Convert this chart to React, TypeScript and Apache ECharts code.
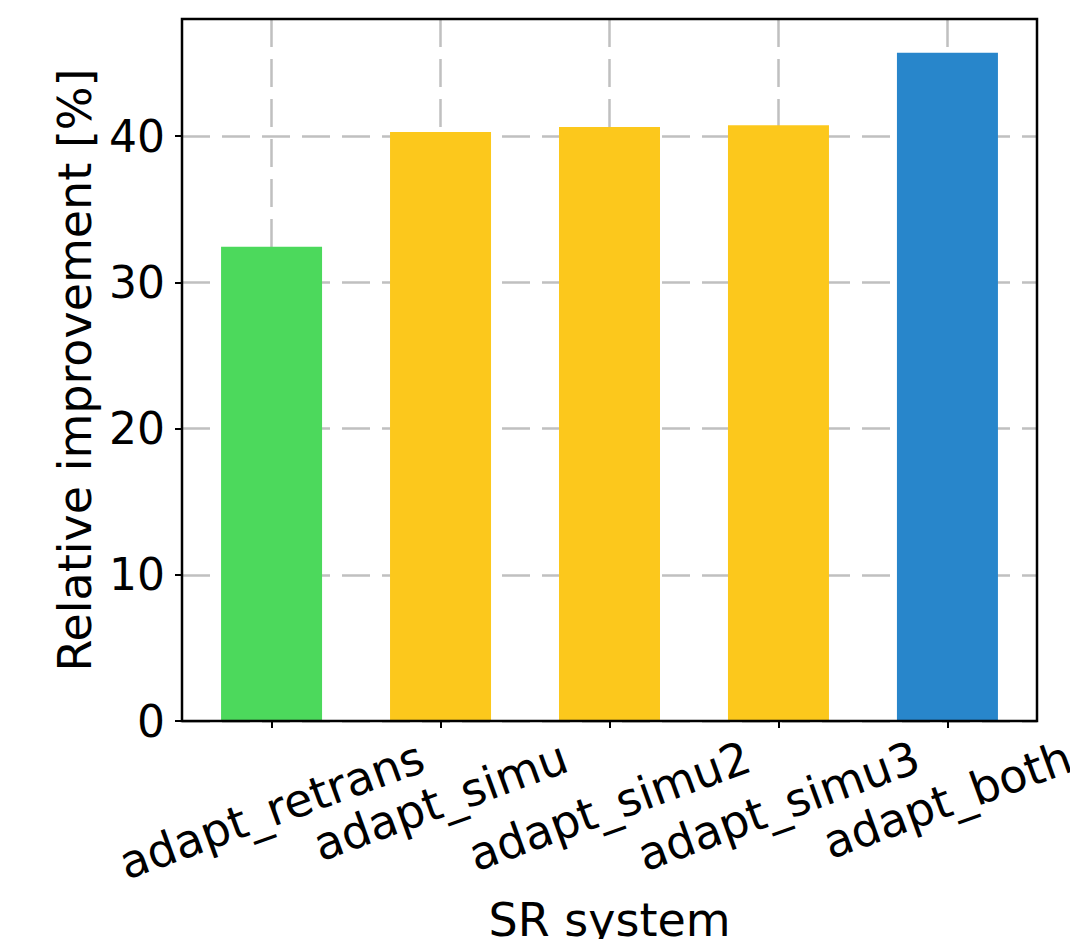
import React, { useEffect, useRef } from 'react';
import * as echarts from 'echarts';

const categories = ['adapt_retrans', 'adapt_simu', 'adapt_simu2', 'adapt_simu3', 'adapt_both'];
const values = [32.42, 40.27, 40.61, 40.74, 45.69];
const barColors = ['#4cd95c', '#fcc81c', '#fcc81c', '#fcc81c', '#2886cb'];
const yTicks = [0, 10, 20, 30, 40];
const yLabel = 'Relative improvement [%]';
const xLabel = 'SR system';

const FONT = '"DejaVu Sans", sans-serif';
const FS_Y = 44;
const FS_X = 46;
const FS_NAME = 46;
const ROT = 20;

const GRID = { left: 182, top: 19, width: 855, height: 702 };

function measure(text: string, fs: number): number {
  const c = document.createElement('canvas').getContext('2d');
  if (!c) return text.length * fs * 0.6;
  c.font = `${fs}px "DejaVu Sans"`;
  return c.measureText(text).width;
}

export default function App() {
  const ref = useRef<HTMLDivElement>(null);
  useEffect(() => {
    if (!ref.current) return;
    const chart = echarts.init(ref.current, null, { renderer: 'svg' });
    const xTicks = categories.map((_, i) => i);
    const widths = categories.map((t) => measure(t, FS_X));
    const wMin = Math.min(...widths);
    const s = Math.sin((ROT * Math.PI) / 180);
    const co = Math.cos((ROT * Math.PI) / 180);
    const rich: Record<string, any> = {};
    categories.forEach((_, i) => {
      const d = ((widths[i] - wMin) / 2) * s;
      rich['l' + i] = {
        fontFamily: FONT,
        fontSize: FS_X,
        color: '#000',
        padding: [2 * d * co, 2 * d * s, 0, 0],
      };
    });
    const option: any = {
      animation: false,
      backgroundColor: '#fff',
      grid: {
        left: GRID.left,
        top: GRID.top,
        width: GRID.width,
        height: GRID.height,
        containLabel: false,
        outerBoundsMode: 'none',
      },
      xAxis: {
        type: 'value',
        min: -0.53,
        max: 4.53,
        name: xLabel,
        nameLocation: 'middle',
        nameGap: 199,
        nameTextStyle: { fontFamily: FONT, fontSize: FS_NAME, color: '#000', verticalAlign: 'middle' },
        axisLine: { show: false, onZero: false },
        axisTick: { show: true, length: 7, customValues: xTicks, lineStyle: { color: '#000', width: 2 } },
        axisLabel: {
          customValues: xTicks,
          rotate: ROT,
          align: 'center',
          verticalAlign: 'middle',
          margin: 79,
          fontFamily: FONT,
          fontSize: FS_X,
          color: '#000',
          formatter: (v: number) => {
            const i = Math.round(v);
            return `{l${i}|${categories[i]}}`;
          },
          rich,
        },
        splitLine: {
          show: true,
          lineStyle: { color: '#c0c0c0', width: 2.5, type: [28, 12] },
        },
      },
      yAxis: {
        type: 'value',
        min: 0,
        max: 48.0,
        name: yLabel,
        nameLocation: 'middle',
        nameGap: 105,
        nameTextStyle: { fontFamily: FONT, fontSize: FS_NAME, color: '#000', verticalAlign: 'middle' },
        axisLine: { show: false, onZero: false },
        axisTick: { show: true, length: 7, customValues: yTicks, lineStyle: { color: '#000', width: 2 } },
        axisLabel: { customValues: yTicks, margin: 17, fontFamily: FONT, fontSize: FS_Y, color: '#000' },
        splitLine: {
          show: true,
          lineStyle: { color: '#c0c0c0', width: 2.5, type: [28, 12] },
        },
      },
      graphic: [
        {
          type: 'rect',
          z: 100,
          silent: true,
          shape: { x: GRID.left, y: GRID.top, width: GRID.width, height: GRID.height },
          style: { fill: 'none', stroke: '#000', lineWidth: 2.5 },
        },
      ],
      series: [
        {
          type: 'bar',
          z: 3,
          barWidth: 101,
          data: values.map((v, i) => ({ value: [i, v], itemStyle: { color: barColors[i] } })),
        },
      ],
    };
    chart.setOption(option);
    return () => chart.dispose();
  }, []);
  return <div ref={ref} style={{ position: 'absolute', left: 0, top: 0, width: 1070, height: 939 }} />;
}
